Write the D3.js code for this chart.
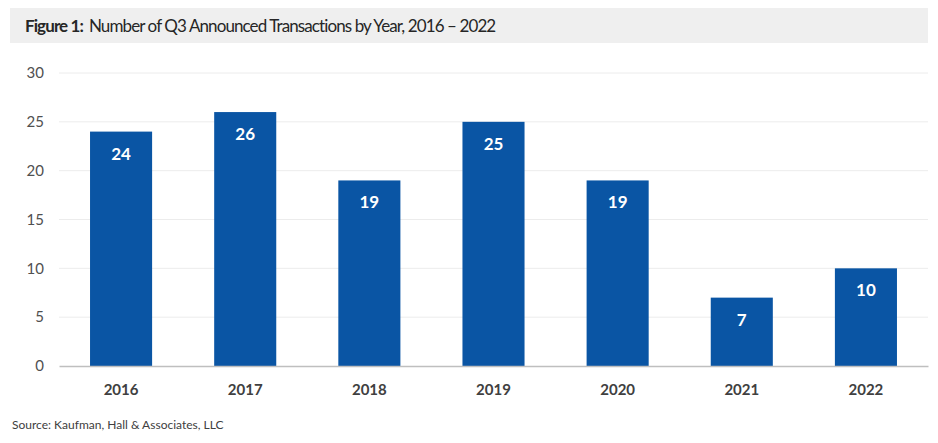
<!DOCTYPE html>
<html>
<head>
<meta charset="utf-8">
<script src="https://cdn.jsdelivr.net/npm/d3@7"></script>
<style>
  body { margin: 0; background: #fff; }
  svg { display: block; font-family: Lato, "Open Sans", sans-serif; }
</style>
</head>
<body>
<div id="chart"></div>
<script>
// chart data
var years  = ["2016", "2017", "2018", "2019", "2020", "2021", "2022"];
var counts = [24, 26, 19, 25, 19, 7, 10];
var yTicks = [0, 5, 10, 15, 20, 25, 30];

var width  = 938,
    height = 443,
    margin = {top: 73, right: 10, bottom: 77, left: 59};

var svg = d3.select("#chart")
  .append("svg")
    .attr("width", width)
    .attr("height", height);

// title band
svg.append("rect")
  .attr("x", 10).attr("y", 8)
  .attr("width", 918).attr("height", 35)
  .attr("fill", "#efefef");

var title = svg.append("text")
  .attr("x", 25).attr("y", 32)
  .attr("font-size", 17)
  .attr("letter-spacing", -0.9)
  .attr("fill", "#262626");
title.append("tspan").attr("font-weight", "bold").text("Figure 1:");
title.append("tspan").attr("dx", 6).text("Number of Q3 Announced Transactions by Year, 2016 \u2013 2022");

var x = d3.scaleBand()
  .domain(years)
  .range([margin.left, width - margin.right])
  .paddingInner(0.5)
  .paddingOuter(0.25);

var y = d3.scaleLinear()
  .domain([0, 30])
  .range([height - margin.bottom, margin.top]);

// gridlines
svg.append("g")
  .selectAll("line")
  .data(yTicks.slice(1))
  .enter()
  .append("line")
    .attr("x1", margin.left)
    .attr("x2", width - margin.right)
    .attr("y1", function(d) { return y(d); })
    .attr("y2", function(d) { return y(d); })
    .attr("stroke", "#ececec")
    .attr("stroke-width", 1);

// y axis labels
var yAxis = svg.append("g")
  .attr("transform", "translate(" + margin.left + ",0)")
  .call(d3.axisLeft(y).tickValues(yTicks).tickSize(0).tickPadding(15));
yAxis.select(".domain").remove();
yAxis.selectAll("text")
  .attr("font-family", "Lato, 'Open Sans', sans-serif")
  .attr("font-size", 15)
  .attr("fill", "#505050");

// bars
svg.append("g")
  .selectAll("rect")
  .data(counts)
  .enter()
  .append("rect")
    .attr("x", function(d, i) { return x(years[i]); })
    .attr("y", function(d) { return y(d); })
    .attr("width", x.bandwidth())
    .attr("height", function(d) { return y(0) - y(d); })
    .attr("fill", "#0a55a4");

// value labels
svg.append("g")
  .selectAll("text")
  .data(counts)
  .enter()
  .append("text")
    .attr("x", function(d, i) { return x(years[i]) + x.bandwidth() / 2; })
    .attr("y", function(d) { return y(d) + 28; })
    .attr("text-anchor", "middle")
    .attr("font-size", 17)
    .attr("font-weight", "bold")
    .attr("fill", "#fff")
    .text(function(d) { return d; });

// x axis
var xAxis = svg.append("g")
  .attr("transform", "translate(0," + y(0) + ")")
  .call(d3.axisBottom(x).tickSize(0).tickPadding(18));
xAxis.select(".domain")
  .attr("stroke", "#bfbfbf")
  .attr("stroke-width", 1.5);
xAxis.selectAll("text")
  .attr("font-family", "Lato, 'Open Sans', sans-serif")
  .attr("font-size", 15)
  .attr("font-weight", "bold")
  .attr("fill", "#404040");

// source note
svg.append("text")
  .attr("x", 12).attr("y", 429)
  .attr("font-size", 12)
  .attr("fill", "#404040")
  .text("Source:  Kaufman, Hall & Associates, LLC");
</script>
</body>
</html>
